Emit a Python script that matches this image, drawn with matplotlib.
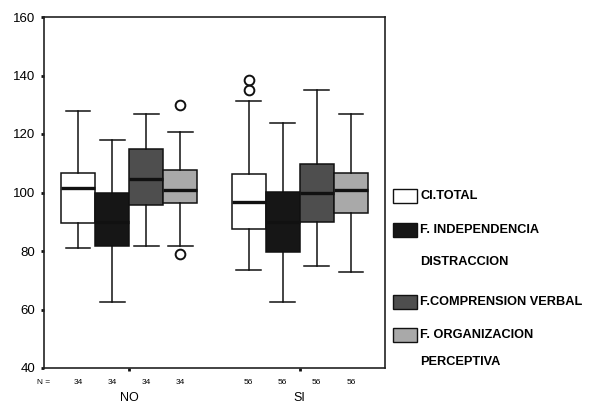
import matplotlib
matplotlib.use("Agg")
import matplotlib.pyplot as plt
from matplotlib.patches import Rectangle
import matplotlib.transforms as mtrans

plt.rcParams['font.family'] = ['Liberation Sans', 'DejaVu Sans']

groups = ['NO', 'SI']
n_counts = [34, 56]
series = ['CI.TOTAL', 'F. INDEPENDENCIA DISTRACCION', 'F.COMPRENSION VERBAL', 'F. ORGANIZACION PERCEPTIVA']
legend_lines = [['CI.TOTAL'], ['F. INDEPENDENCIA', 'DISTRACCION'],
                ['F.COMPRENSION VERBAL'], ['F. ORGANIZACION', 'PERCEPTIVA']]
colors = ['#ffffff', '#161616', '#4e4e4e', '#a9a9a9']

# per series: [NO, SI]
whislo = [[81.0, 73.6], [62.5, 62.7], [81.6, 74.8], [81.6, 72.8]]
q1     = [[89.7, 87.6], [81.6, 79.7], [95.8, 90.0], [96.3, 92.9]]
med    = [[101.7, 96.9], [90.0, 90.0], [104.6, 100.0], [100.9, 100.7]]
q3     = [[106.7, 106.3], [100.0, 100.1], [115.0, 109.6], [107.6, 106.7]]
whishi = [[128.0, 131.2], [117.8, 123.9], [126.8, 135.0], [120.8, 126.9]]
fliers = [[[], [135.2, 138.3]], [[], []], [[], []], [[129.9, 78.9], []]]

fig = plt.figure(figsize=(5.97, 4.05), dpi=100)
ax = fig.add_axes([44/597, 1-368/405, (385-44)/597, (368-17)/405])

offsets = [-0.3, -0.1, 0.1, 0.3]
for s in range(4):
    stats = []
    pos = []
    for g in range(2):
        stats.append(dict(whislo=whislo[s][g], q1=q1[s][g], med=med[s][g], q3=q3[s][g],
                          whishi=whishi[s][g], fliers=fliers[s][g]))
        pos.append(g + 1 + offsets[s])
    ax.bxp(stats, positions=pos, widths=0.2, capwidths=0.145, patch_artist=True,
           showfliers=True, manage_ticks=False,
           boxprops=dict(facecolor=colors[s], edgecolor='#111111', linewidth=1.1),
           medianprops=dict(color='#111111', linewidth=2.4, solid_capstyle='butt'),
           whiskerprops=dict(color='#111111', linewidth=1.1),
           capprops=dict(color='#111111', linewidth=1.1),
           flierprops=dict(marker='o', markerfacecolor='none', markeredgecolor='#111111',
                           markersize=7, markeredgewidth=1.4))

ax.set_xlim(0.5, 2.5)
ax.set_ylim(40, 160)
ax.set_yticks([40, 60, 80, 100, 120, 140, 160])
ax.set_xticks([1, 2])
ax.set_xticklabels(['', ''])
ax.tick_params(axis='both', direction='out', length=2.5, width=2, labelsize=9.5, color='#111111')
ax.tick_params(axis='y', pad=4)
for sp in ax.spines.values():
    sp.set_linewidth(1.2)
    sp.set_color('#222222')

trans = mtrans.blended_transform_factory(ax.transData, fig.transFigure)
fig.text(37/597, 1-383/405, 'N =', fontsize=6, ha='left', va='center')
for g in range(2):
    for s in range(4):
        ax.text(g + 1 + offsets[s], 1-383/405, str(n_counts[g]), transform=trans,
                fontsize=6, ha='center', va='center')
    ax.text(g + 1, 1-392/405, groups[g], transform=trans, fontsize=9, ha='center', va='top')

# legend
patch_y = [196, 230, 302, 335]
line_y = [[196], [230, 262], [302], [335, 362]]
for s in range(4):
    y = patch_y[s]
    fig.add_artist(Rectangle((393/597, 1-(y+7)/405), 24/597, 14/405, transform=fig.transFigure,
                             facecolor=colors[s], edgecolor='#111111', linewidth=1.0))
    for txt, yy in zip(legend_lines[s], line_y[s]):
        fig.text(420/597, 1-yy/405, txt, fontsize=9.2, fontweight='bold', ha='left', va='center')

fig.savefig('out.png', dpi=100)
